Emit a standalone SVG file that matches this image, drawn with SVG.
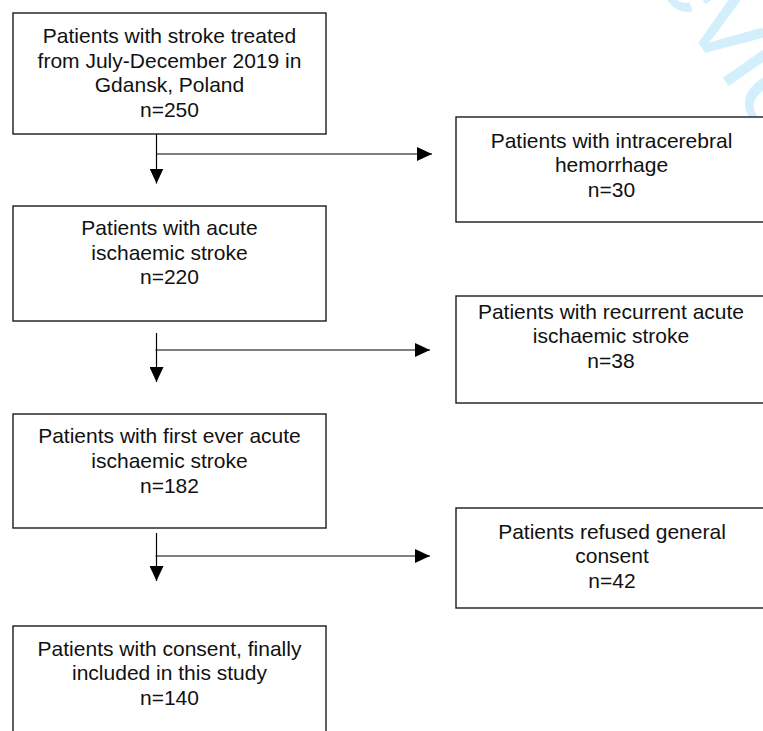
<svg xmlns="http://www.w3.org/2000/svg" width="763" height="731" viewBox="0 0 763 731">
  <style>
    .box { fill: #ffffff; stroke: #1a1a1a; stroke-width: 1.4; }
    .lbl { font-family: "Liberation Sans", Arial, sans-serif; font-size: 21px; fill: #111111; text-anchor: middle; }
    .conn { stroke: #000000; stroke-width: 1.2; fill: none; }
    .wm { font-family: "Liberation Sans", Arial, sans-serif; font-size: 115px; fill: #d3effb; }
  </style>
  <defs>
    <marker id="arrow" viewBox="0 0 15 14" refX="15" refY="7" markerWidth="15" markerHeight="14" markerUnits="userSpaceOnUse" orient="auto">
      <path d="M0,0 L15,7 L0,14 z" fill="#000000"/>
    </marker>
  </defs>
  <rect width="763" height="731" fill="#ffffff"/>
  <text class="wm" transform="translate(626.8,-59.3) rotate(55)">review</text>

  <g id="connectors">
    <line class="conn" x1="156.5" y1="134" x2="156.5" y2="183.5" marker-end="url(#arrow)"/>
    <line class="conn" x1="156.5" y1="154" x2="432" y2="154" marker-end="url(#arrow)"/>
    <line class="conn" x1="156.5" y1="333" x2="156.5" y2="382" marker-end="url(#arrow)"/>
    <line class="conn" x1="155.5" y1="350" x2="430" y2="350" marker-end="url(#arrow)"/>
    <line class="conn" x1="156.5" y1="533" x2="156.5" y2="581" marker-end="url(#arrow)"/>
    <line class="conn" x1="155.5" y1="556" x2="430" y2="556" marker-end="url(#arrow)"/>
  </g>

  <g id="node-all-stroke">
    <rect class="box" x="13" y="13" width="313" height="121"/>
    <text class="lbl" x="169.5" y="43">Patients with stroke treated</text>
    <text class="lbl" x="169.5" y="67.5">from July-December 2019 in</text>
    <text class="lbl" x="169.5" y="92">Gdansk, Poland</text>
    <text class="lbl" x="169.5" y="116.5">n=250</text>
  </g>

  <g id="node-ich">
    <rect class="box" x="456" y="117" width="312" height="105"/>
    <text class="lbl" x="611.5" y="147.5">Patients with intracerebral</text>
    <text class="lbl" x="611.5" y="171.5">hemorrhage</text>
    <text class="lbl" x="611.5" y="196.5">n=30</text>
  </g>

  <g id="node-acute-is">
    <rect class="box" x="13" y="206" width="313" height="115"/>
    <text class="lbl" x="169.5" y="235">Patients with acute</text>
    <text class="lbl" x="169.5" y="259.5">ischaemic stroke</text>
    <text class="lbl" x="169.5" y="284">n=220</text>
  </g>

  <g id="node-recurrent">
    <rect class="box" x="456" y="296" width="312" height="107"/>
    <text class="lbl" x="611" y="319">Patients with recurrent acute</text>
    <text class="lbl" x="611" y="343">ischaemic stroke</text>
    <text class="lbl" x="611" y="367.5">n=38</text>
  </g>

  <g id="node-first-ever">
    <rect class="box" x="13" y="414" width="313" height="114"/>
    <text class="lbl" x="169.5" y="443">Patients with first ever acute</text>
    <text class="lbl" x="169.5" y="468">ischaemic stroke</text>
    <text class="lbl" x="169.5" y="492.5">n=182</text>
  </g>

  <g id="node-refused">
    <rect class="box" x="456" y="508" width="312" height="100"/>
    <text class="lbl" x="612" y="539">Patients refused general</text>
    <text class="lbl" x="612" y="563">consent</text>
    <text class="lbl" x="612" y="587.5">n=42</text>
  </g>

  <g id="node-included">
    <rect class="box" x="13" y="626" width="313" height="115"/>
    <text class="lbl" x="169.5" y="656">Patients with consent, finally</text>
    <text class="lbl" x="169.5" y="680">included in this study</text>
    <text class="lbl" x="169.5" y="704.5">n=140</text>
  </g>
</svg>
